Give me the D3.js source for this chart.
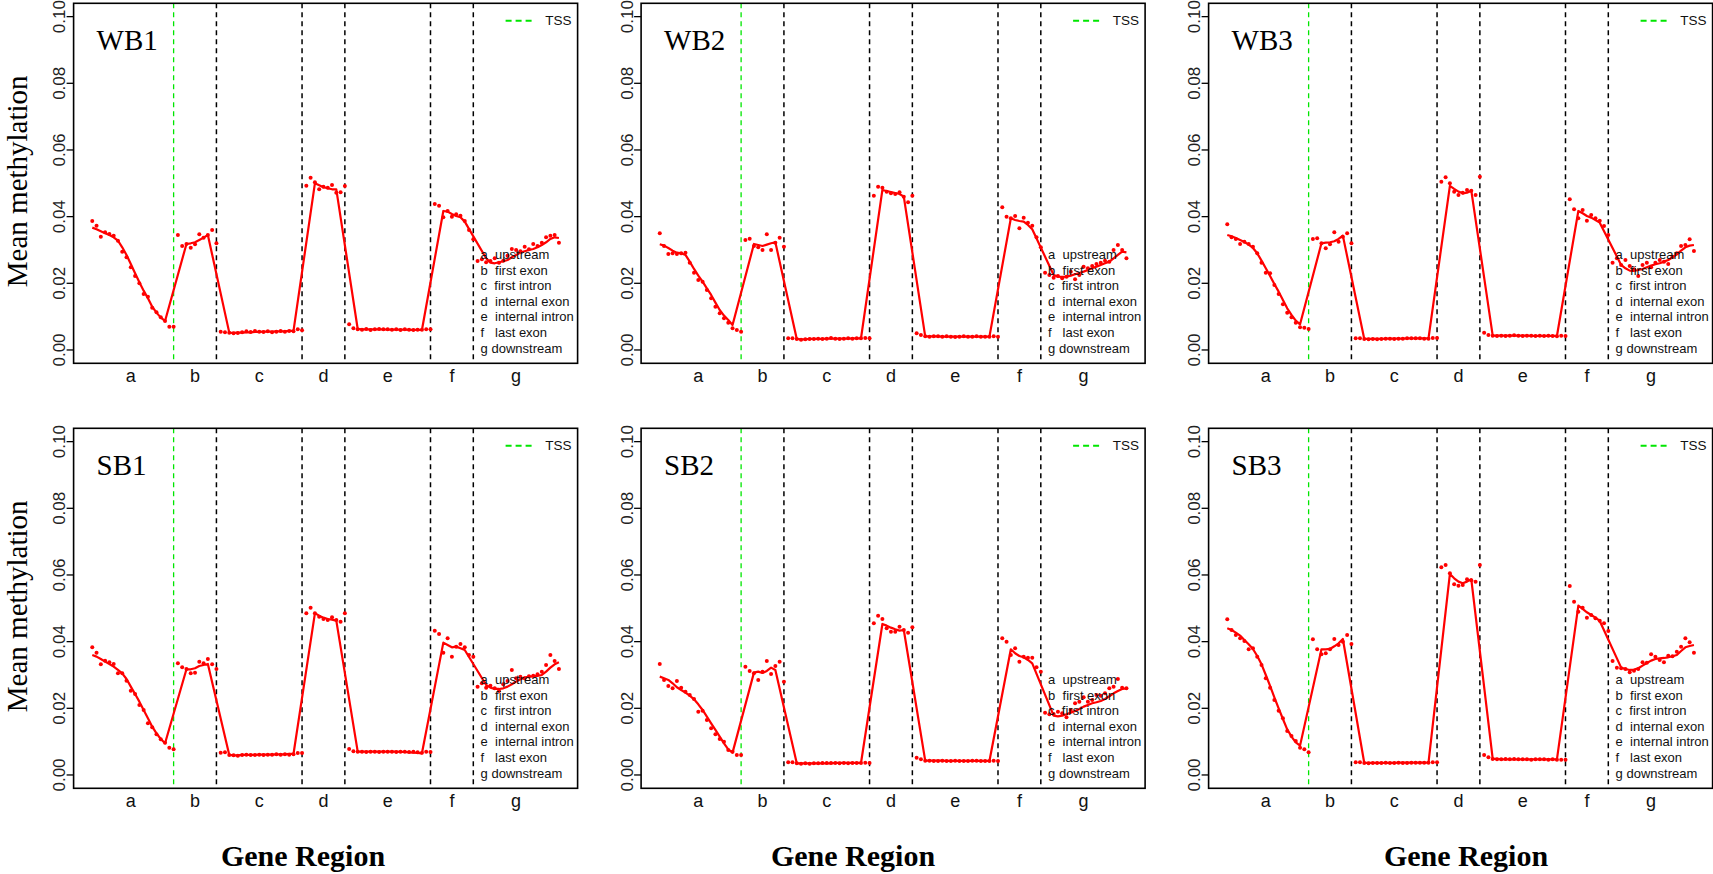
<!DOCTYPE html>
<html><head><meta charset="utf-8">
<script src="https://cdn.jsdelivr.net/npm/d3@7"></script>
<style>
html,body{margin:0;padding:0;background:#fff;}
svg{display:block;}
text{white-space:pre;}
</style></head>
<body>
<script>
const N = null;
const panelNames = ["WB1","WB2","WB3","SB1","SB2","SB3"];
const regionLabels = ["a","b","c","d","e","f","g"];
const regionLabelPos = [10,25,40,55,70,85,100];
const tssPos = 20;
const boundaryPos = [30,50,60,80,90];
const yTicks = [0,0.02,0.04,0.06,0.08,0.10];
const legendItems = ["a  upstream","b  first exon","c  first intron","d  internal exon","e  internal intron","f   last exon","g downstream"];
const tssLabel = "TSS";
const yTitle = "Mean methylation";
const xTitle = "Gene Region";

const wb1Dots = [.0387,.0373,.0340,.0353,.0348,.0343,.0328,.0295,.0278,.0248,.0222,.0200,.0168,.0160,.0127,.0113,.0098,.0087,.0070,.0070,
 .0345,.0312,.0318,.0307,.0317,.0347,.0337,.0345,.0360,.0320,
 .0055,.0053,.0052,.0050,.0051,.0053,.0056,.0054,.0057,.0055,.0054,.0056,.0053,.0055,.0057,.0055,.0057,.0056,.0062,.0059,
 .0493,.0517,.0503,.0482,.0490,.0487,.0495,.0472,.0473,.0492,
 .0077,.0065,.0062,.0061,.0063,.0060,.0062,.0063,.0062,.0062,.0061,.0062,.0060,.0062,.0061,.0060,.0061,.0061,.0062,.0062,
 .0438,.0433,.0398,.0417,.0400,.0407,.0403,.0387,.0360,.0332,
 .0267,.0272,.0263,.0267,.0275,.0262,.0268,.0283,.0303,.0300,.0296,.0310,.0302,.0318,.0312,.0322,.0338,.0343,.0345,.0322];
const wb1Line = [.0367,.0362,.0356,.0350,.0345,.0338,.0328,.0308,.0285,.0258,.0230,.0203,.0178,.0155,.0130,.0112,.0097,.0087,N,N,
 N,N,.0318,.0320,.0323,.0330,.0337,.0345,N,N,
 N,N,.0052,.0051,.0052,.0052,.0053,.0053,.0054,.0054,.0055,.0055,.0055,.0056,.0056,.0056,.0057,.0057,N,N,
 N,N,.0500,.0494,.0488,.0485,.0482,.0482,N,N,
 N,N,.0063,.0062,.0062,.0062,.0062,.0062,.0062,.0061,.0061,.0061,.0061,.0061,.0060,.0060,.0060,.0060,N,N,
 N,N,.0417,.0415,.0408,.0402,.0398,.0385,N,N,
 N,N,.0275,.0262,.0260,.0263,.0266,.0270,.0278,.0285,.0292,.0296,.0300,.0303,.0308,.0315,.0323,.0333,.0338,.0336];

const wb2Dots = [.0350,.0312,.0288,.0290,.0288,.0290,.0292,.0262,.0232,.0210,.0205,.0180,.0155,.0130,.0110,.0095,.0082,.0065,.0060,.0055,
 .0330,.0334,.0312,.0308,.0300,.0347,.0300,.0322,.0337,.0310,
 .0035,.0035,.0033,.0031,.0032,.0033,.0033,.0034,.0033,.0034,.0036,.0034,.0033,.0034,.0035,.0034,.0035,.0035,.0036,.0035,
 .0463,.0490,.0487,.0475,.0470,.0468,.0473,.0460,.0443,.0463,
 .0050,.0045,.0041,.0040,.0041,.0041,.0040,.0041,.0040,.0039,.0040,.0041,.0040,.0040,.0041,.0040,.0040,.0040,.0041,.0040,
 .0428,.0400,.0395,.0402,.0365,.0397,.0382,.0373,.0338,.0308,
 .0232,.0225,.0217,.0222,.0215,.0220,.0235,.0212,.0225,.0250,.0245,.0252,.0258,.0262,.0268,.0265,.0300,.0315,.0300,.0275];
const wb2Line = [.0317,.0313,.0306,.0298,.0292,.0290,.0285,.0265,.0243,.0223,.0205,.0185,.0165,.0142,.0120,.0103,.0090,.0075,N,N,
 N,N,.0318,.0315,.0312,.0316,.0320,.0323,N,N,
 N,N,.0033,.0032,.0032,.0033,.0033,.0033,.0033,.0034,.0034,.0034,.0034,.0034,.0034,.0035,.0035,.0035,N,N,
 N,N,.0480,.0477,.0474,.0471,.0468,.0460,N,N,
 N,N,.0041,.0041,.0041,.0041,.0040,.0040,.0040,.0040,.0040,.0040,.0040,.0040,.0040,.0040,.0040,.0040,N,N,
 N,N,.0395,.0390,.0387,.0385,.0375,.0362,N,N,
 N,N,.0225,.0220,.0219,.0220,.0223,.0227,.0231,.0235,.0240,.0245,.0250,.0255,.0260,.0265,.0275,.0285,.0295,.0293];

const wb3Dots = [.0377,.0338,.0333,.0318,.0325,.0318,.0310,.0290,.0262,.0232,.0230,.0195,.0168,.0137,.0112,.0098,.0082,.0068,.0067,.0063,
 .0333,.0335,.0320,.0305,.0317,.0353,.0325,.0340,.0350,.0320,
 .0035,.0035,.0033,.0032,.0033,.0032,.0033,.0034,.0034,.0033,.0034,.0034,.0035,.0035,.0035,.0035,.0034,.0034,.0036,.0036,
 .0505,.0518,.0500,.0475,.0465,.0472,.0480,.0478,.0465,.0520,
 .0052,.0045,.0043,.0042,.0043,.0042,.0043,.0044,.0043,.0042,.0043,.0043,.0042,.0043,.0042,.0043,.0042,.0041,.0043,.0042,
 .0452,.0422,.0395,.0420,.0388,.0405,.0395,.0388,.0372,.0345,
 .0262,.0275,.0255,.0270,.0252,.0242,.0222,.0255,.0262,.0248,.0262,.0270,.0265,.0258,.0280,.0290,.0312,.0315,.0332,.0297];
const wb3Line = [.0345,.0341,.0336,.0330,.0324,.0316,.0306,.0290,.0268,.0245,.0222,.0198,.0175,.0150,.0125,.0105,.0088,.0077,N,N,
 N,N,.0320,.0322,.0323,.0326,.0333,.0343,N,N,
 N,N,.0033,.0033,.0033,.0033,.0033,.0034,.0034,.0034,.0034,.0034,.0035,.0035,.0035,.0035,.0035,.0035,N,N,
 N,N,.0492,.0483,.0475,.0470,.0472,.0478,N,N,
 N,N,.0043,.0043,.0043,.0043,.0043,.0043,.0043,.0043,.0043,.0042,.0042,.0042,.0042,.0042,.0042,.0042,N,N,
 N,N,.0417,.0410,.0402,.0397,.0390,.0382,N,N,
 N,N,.0255,.0245,.0238,.0237,.0240,.0243,.0248,.0253,.0257,.0260,.0265,.0270,.0278,.0287,.0298,.0308,.0313,.0315];

const sb1Dots = [.0383,.0367,.0332,.0343,.0338,.0333,.0305,.0305,.0283,.0253,.0243,.0210,.0195,.0155,.0143,.0122,.0107,.0097,.0082,.0077,
 .0335,.0323,.0318,.0305,.0307,.0340,.0335,.0348,.0332,.0318,
 .0067,.0068,.0060,.0059,.0058,.0060,.0061,.0060,.0060,.0061,.0060,.0061,.0061,.0062,.0061,.0062,.0061,.0062,.0066,.0066,
 .0485,.0502,.0485,.0475,.0468,.0465,.0473,.0465,.0460,.0485,
 .0078,.0071,.0070,.0070,.0069,.0070,.0070,.0069,.0070,.0070,.0070,.0069,.0070,.0070,.0069,.0070,.0068,.0067,.0070,.0069,
 .0433,.0423,.0367,.0410,.0355,.0385,.0393,.0383,.0360,.0355,
 .0265,.0275,.0262,.0268,.0260,.0252,.0272,.0282,.0315,.0290,.0295,.0290,.0296,.0298,.0302,.0310,.0330,.0360,.0342,.0318];
const sb1Line = [.0360,.0355,.0348,.0340,.0333,.0325,.0315,.0305,.0288,.0265,.0243,.0220,.0195,.0170,.0145,.0125,.0108,.0095,N,N,
 N,N,.0317,.0317,.0320,.0327,.0330,.0333,N,N,
 N,N,.0060,.0059,.0059,.0060,.0060,.0060,.0060,.0061,.0061,.0061,.0061,.0062,.0062,.0062,.0063,.0063,N,N,
 N,N,.0485,.0478,.0472,.0468,.0466,.0463,N,N,
 N,N,.0070,.0070,.0070,.0070,.0070,.0070,.0070,.0070,.0070,.0070,.0069,.0069,.0068,.0067,.0066,.0065,N,N,
 N,N,.0397,.0390,.0383,.0385,.0380,.0375,N,N,
 N,N,.0270,.0262,.0258,.0258,.0260,.0265,.0272,.0280,.0287,.0292,.0295,.0296,.0297,.0300,.0310,.0322,.0332,.0338];

const sb2Dots = [.0333,.0285,.0267,.0260,.0282,.0262,.0250,.0240,.0228,.0190,.0193,.0165,.0140,.0122,.0108,.0100,.0075,.0070,.0060,.0060,
 .0325,.0312,.0305,.0285,.0310,.0342,.0303,.0327,.0340,.0280,
 .0038,.0038,.0035,.0034,.0035,.0034,.0035,.0035,.0036,.0036,.0036,.0036,.0035,.0036,.0035,.0036,.0036,.0036,.0037,.0036,
 .0455,.0478,.0468,.0440,.0430,.0430,.0445,.0435,.0427,.0443,
 .0052,.0047,.0043,.0043,.0042,.0042,.0043,.0042,.0042,.0043,.0042,.0042,.0042,.0043,.0043,.0042,.0042,.0042,.0043,.0042,
 .0410,.0400,.0360,.0380,.0340,.0355,.0352,.0352,.0323,.0310,
 .0187,.0182,.0183,.0190,.0185,.0173,.0195,.0215,.0220,.0233,.0220,.0225,.0240,.0238,.0245,.0260,.0265,.0288,.0262,.0260];
const sb2Line = [.0295,.0290,.0285,.0275,.0263,.0255,.0247,.0238,.0227,.0212,.0195,.0175,.0155,.0135,.0115,.0095,.0077,.0067,N,N,
 N,N,.0307,.0310,.0306,.0312,.0322,.0315,N,N,
 N,N,.0035,.0035,.0035,.0035,.0035,.0035,.0035,.0035,.0035,.0036,.0036,.0036,.0036,.0036,.0036,.0036,N,N,
 N,N,.0453,.0448,.0442,.0437,.0433,.0435,N,N,
 N,N,.0043,.0043,.0043,.0043,.0043,.0042,.0042,.0042,.0042,.0042,.0042,.0042,.0042,.0042,.0042,.0042,N,N,
 N,N,.0377,.0365,.0357,.0353,.0345,.0335,N,N,
 N,N,.0178,.0176,.0178,.0182,.0187,.0192,.0198,.0205,.0210,.0215,.0218,.0222,.0228,.0236,.0245,.0252,.0258,.0260];

const sb3Dots = [.0467,.0435,.0420,.0410,.0402,.0377,.0380,.0355,.0330,.0290,.0262,.0225,.0193,.0170,.0132,.0117,.0102,.0082,.0077,.0068,
 .0407,.0377,.0362,.0365,.0377,.0408,.0390,.0400,.0420,.0393,
 .0038,.0038,.0036,.0035,.0036,.0036,.0036,.0037,.0036,.0036,.0037,.0036,.0036,.0037,.0037,.0037,.0037,.0037,.0038,.0038,
 .0623,.0630,.0605,.0572,.0568,.0570,.0587,.0584,.0580,.0630,
 .0060,.0053,.0048,.0047,.0047,.0048,.0047,.0048,.0047,.0047,.0047,.0046,.0047,.0047,.0047,.0046,.0047,.0046,.0046,.0046,
 .0567,.0520,.0490,.0502,.0472,.0480,.0470,.0463,.0455,.0432,
 .0342,.0322,.0320,.0318,.0308,.0313,.0318,.0338,.0337,.0362,.0355,.0345,.0338,.0358,.0356,.0370,.0385,.0410,.0398,.0367];
const sb3Line = [.0440,.0435,.0427,.0418,.0405,.0392,.0378,.0357,.0332,.0300,.0267,.0233,.0200,.0168,.0137,.0115,.0098,.0088,N,N,
 N,N,.0377,.0377,.0378,.0386,.0395,.0408,N,N,
 N,N,.0036,.0036,.0036,.0036,.0036,.0036,.0036,.0036,.0037,.0037,.0037,.0037,.0037,.0037,.0037,.0037,N,N,
 N,N,.0603,.0590,.0580,.0575,.0580,.0587,N,N,
 N,N,.0048,.0048,.0047,.0047,.0047,.0047,.0047,.0047,.0047,.0047,.0047,.0047,.0047,.0047,.0047,.0047,N,N,
 N,N,.0508,.0498,.0488,.0480,.0472,.0462,N,N,
 N,N,.0322,.0318,.0315,.0316,.0320,.0328,.0336,.0343,.0348,.0350,.0351,.0353,.0356,.0360,.0372,.0383,.0387,.0390];

const panelDots = [wb1Dots, wb2Dots, wb3Dots, sb1Dots, sb2Dots, sb3Dots];
const panelLines = [wb1Line, wb2Line, wb3Line, sb1Line, sb2Line, sb3Line];

// ---------- layout ----------
const W = 1713, H = 874;
const colLeft = [73.6, 641.1, 1208.6];
const rowTop = [3.3, 428.3];
const boxW = 504, boxH = 360;
const xTitleX = [303, 853, 1466];

const svg = d3.select("body").append("svg").attr("width", W).attr("height", H);

const n = wb1Dots.length;
const pad = 0.04 * (n - 1);
const x = d3.scaleLinear().domain([1 - pad, n + pad]).range([0, boxW]);
const y = d3.scaleLinear().domain([-0.004, 0.104]).range([boxH, 0]);

panelNames.forEach((name, p) => {
  const col = p % 3, row = Math.floor(p / 3);
  const g = svg.append("g").attr("transform", `translate(${colLeft[col]},${rowTop[row]})`);
  const dots = panelDots[p];
  const lineVals = panelLines[p];

  // TSS line
  g.append("line").attr("x1", x(tssPos)).attr("x2", x(tssPos)).attr("y1", 0).attr("y2", boxH)
    .attr("stroke", "#00e600").attr("stroke-width", 1.3).attr("stroke-dasharray", "5,4");
  // boundaries
  g.selectAll("line.bd").data(boundaryPos).join("line").attr("class", "bd")
    .attr("x1", d => x(d)).attr("x2", d => x(d)).attr("y1", 0).attr("y2", boxH)
    .attr("stroke", "#000").attr("stroke-width", 1.5).attr("stroke-dasharray", "5,4");

  // smoothed line
  const pts = lineVals.map((v, i) => [i + 1, v]).filter(d => d[1] !== null);
  g.append("path").datum(pts)
    .attr("d", d3.line().x(d => x(d[0])).y(d => y(d[1])))
    .attr("fill", "none").attr("stroke", "#ff0000").attr("stroke-width", 2.2).attr("stroke-linejoin", "round");

  // dots
  g.selectAll("circle").data(dots).join("circle")
    .attr("cx", (d, i) => x(i + 1)).attr("cy", d => y(d)).attr("r", 2)
    .attr("fill", "#ff0000");

  // box
  g.append("rect").attr("x", 0).attr("y", 0).attr("width", boxW).attr("height", boxH)
    .attr("fill", "none").attr("stroke", "#000").attr("stroke-width", 1.6);

  // y axis
  const ya = g.append("g");
  ya.selectAll("line").data(yTicks).join("line")
    .attr("x1", -7).attr("x2", 0).attr("y1", d => y(d)).attr("y2", d => y(d))
    .attr("stroke", "#000").attr("stroke-width", 1.3);
  ya.selectAll("text").data(yTicks).join("text")
    .attr("transform", d => `translate(-8.5,${y(d)}) rotate(-90)`)
    .attr("text-anchor", "middle")
    .attr("font-family", "Liberation Sans, Arial, sans-serif").attr("font-size", 17)
    .attr("fill", "#222")
    .text(d => d3.format(".2f")(d));

  // x category labels
  g.selectAll("text.xl").data(regionLabels).join("text").attr("class", "xl")
    .attr("x", (d, i) => x(regionLabelPos[i])).attr("y", boxH + 18.5)
    .attr("text-anchor", "middle")
    .attr("font-family", "Liberation Sans, Arial, sans-serif").attr("font-size", 18)
    .attr("fill", "#111")
    .text(d => d);

  // panel title
  g.append("text").attr("x", 23).attr("y", 46.7)
    .attr("font-family", "Liberation Serif, Times New Roman, serif").attr("font-size", 29)
    .attr("fill", "#000").text(name);

  // TSS legend
  g.append("line").attr("x1", boxW - 72).attr("x2", boxW - 44).attr("y1", 17.4).attr("y2", 17.4)
    .attr("stroke", "#00e600").attr("stroke-width", 2).attr("stroke-dasharray", "6,4");
  g.append("text").attr("x", boxW - 6).attr("y", 22)
    .attr("text-anchor", "end")
    .attr("font-family", "Liberation Sans, Arial, sans-serif").attr("font-size", 13.5)
    .attr("fill", "#111").text(tssLabel);

  // region legend
  g.selectAll("text.lg").data(legendItems).join("text").attr("class", "lg")
    .attr("x", 407).attr("y", (d, i) => 256 + i * 15.55)
    .attr("font-family", "Liberation Sans, Arial, sans-serif").attr("font-size", 13)
    .attr("fill", "#111").text(d => d);

  // y title
  if (col === 0) {
    svg.append("text")
      .attr("transform", `translate(26.5,${rowTop[row] + 178}) rotate(-90)`)
      .attr("text-anchor", "middle")
      .attr("font-family", "Liberation Serif, Times New Roman, serif").attr("font-size", 29)
      .text(yTitle);
  }
  // x title
  if (row === 1) {
    svg.append("text")
      .attr("x", xTitleX[col]).attr("y", 866)
      .attr("text-anchor", "middle")
      .attr("font-family", "Liberation Serif, Times New Roman, serif").attr("font-size", 30)
      .attr("font-weight", "bold")
      .text(xTitle);
  }
});
</script>
</body></html>
